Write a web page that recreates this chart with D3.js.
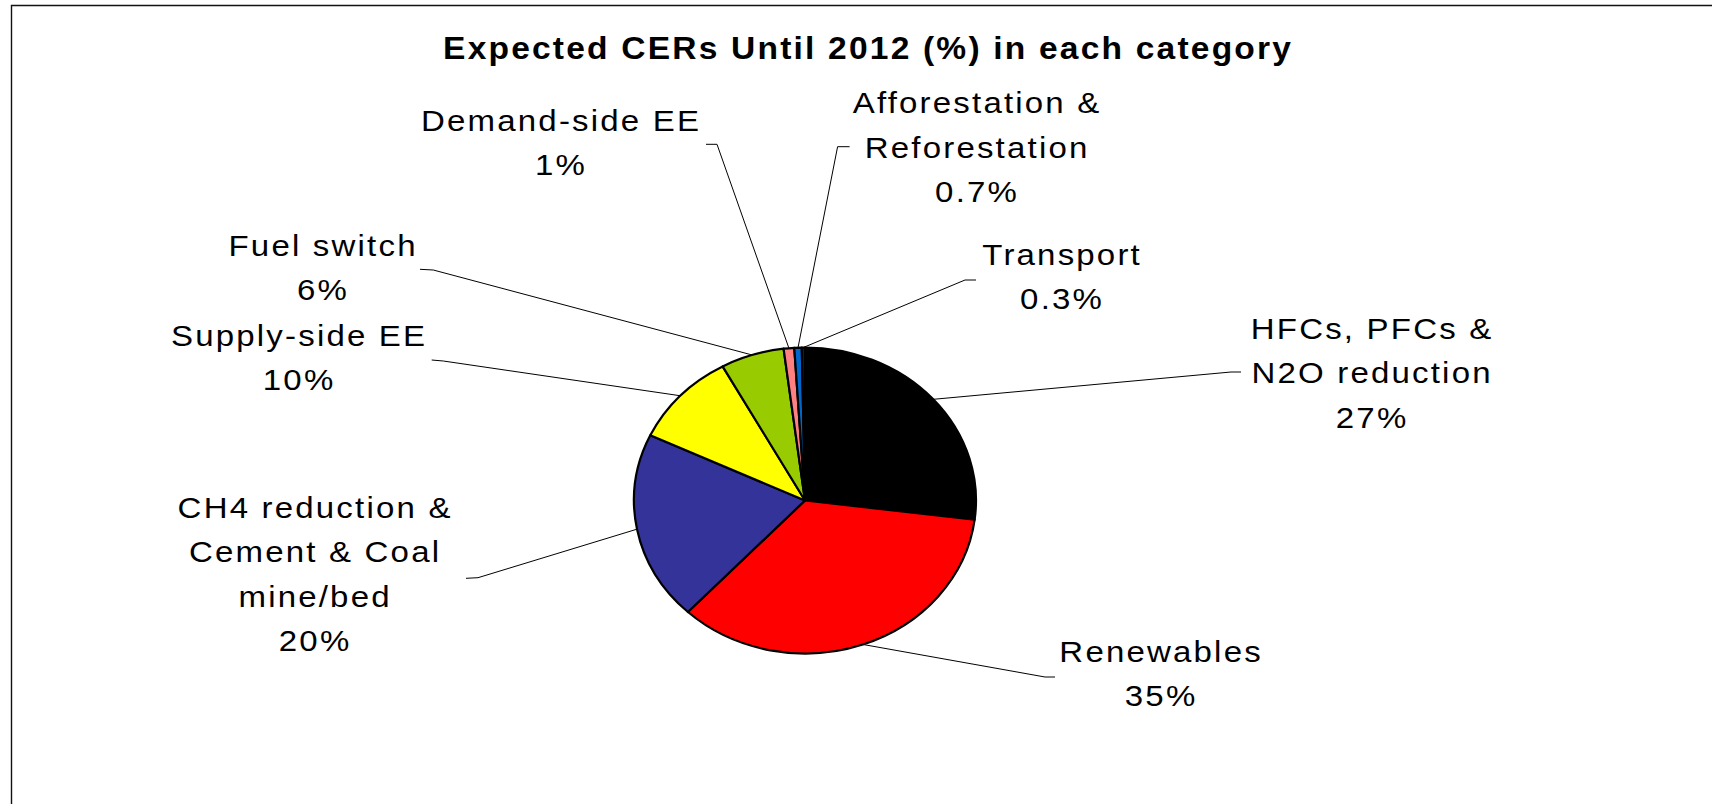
<!DOCTYPE html>
<html>
<head>
<meta charset="utf-8">
<script src="https://cdn.jsdelivr.net/npm/d3@7"></script>
<style>
  html, body { margin: 0; padding: 0; background: #fff; }
  svg { display: block; }
  text { font-family: "Liberation Sans", Arial, sans-serif; fill: #000; }
</style>
</head>
<body>
<svg id="chart" width="1712" height="804"></svg>
<script>
// Expected CERs until 2012, share of each project category (%)
const categories = [
  "HFCs, PFCs & N2O reduction",
  "Renewables",
  "CH4 reduction & Cement & Coal mine/bed",
  "Supply-side EE",
  "Fuel switch",
  "Demand-side EE",
  "Afforestation & Reforestation",
  "Transport"
];
const shares = [27, 35, 20, 10, 6, 1, 0.7, 0.3];

// How each category name wraps in its label
const nameLines = [
  ["HFCs, PFCs &", "N2O reduction"],
  ["Renewables"],
  ["CH4 reduction &", "Cement & Coal", "mine/bed"],
  ["Supply-side EE"],
  ["Fuel switch"],
  ["Demand-side EE"],
  ["Afforestation &", "Reforestation"],
  ["Transport"]
];

const sliceColors = ["#000000", "#FF0000", "#333399", "#FFFF00", "#99CC00", "#FF8080", "#0066CC", "#1a1a40"];

const title = "Expected CERs Until 2012 (%) in each category";

// ---- layout ----
const W = 1712, H = 804;
const cx = 805, cy = 500.5, rx = 171, ry = 153;
const lineH = 44.5;
const spacing = 2;       // letter spacing
const stretch = 1.1;     // horizontal glyph stretch

// label anchor (centre x, first baseline) and leader elbow / end points
const labelLayout = [
  { x: 1371, y: 339,   elbow: [1231, 372],   end: [1241, 372] },
  { x: 1160, y: 661.7, elbow: [1045, 677],   end: [1055, 677] },
  { x: 314,  y: 517.7, elbow: [478, 577.7],  end: [466, 578.3] },
  { x: 298,  y: 346,   elbow: [443.3, 361],  end: [431.7, 360] },
  { x: 322,  y: 255.7, elbow: [433.3, 270],  end: [420, 269.3] },
  { x: 560,  y: 130.7, elbow: [717, 144.3],  end: [706, 144.3] },
  { x: 976,  y: 113.3, elbow: [837.6, 146.7], end: [849.6, 146.7] },
  { x: 1061, y: 265,   elbow: [965, 280],    end: [976, 280] }
];

const svg = d3.select("#chart");

// chart frame
svg.append("path")
  .attr("d", `M11.5,${H} L11.5,5.5 L${W},5.5`)
  .attr("fill", "none")
  .attr("stroke", "#111")
  .attr("stroke-width", 1.4);

// title
svg.append("g")
  .attr("transform", `translate(${867},0) scale(${stretch},1)`)
  .append("text")
  .attr("x", spacing / 2)
  .attr("y", 59)
  .attr("text-anchor", "middle")
  .attr("font-size", 30.5)
  .attr("font-weight", "bold")
  .attr("letter-spacing", spacing)
  .text(title);

const data = categories.map((c, i) => ({ name: c, value: shares[i], idx: i }));

const pie = d3.pie().value(d => d.value).sort(null);
const arcs = pie(data);

const color = d3.scaleOrdinal().domain(categories).range(sliceColors);

const arc = d3.arc().innerRadius(0).outerRadius(ry);

// pie drawn as a circle, stretched horizontally into an ellipse
const pieG = svg.append("g")
  .attr("transform", `translate(${cx},${cy}) scale(${rx / ry},1)`);

pieG.selectAll("path")
  .data(arcs)
  .join("path")
  .attr("d", arc)
  .attr("fill", d => color(d.data.name))
  .attr("stroke", "#000")
  .attr("stroke-width", 2.2)
  .attr("stroke-linejoin", "round")
  .attr("vector-effect", "non-scaling-stroke");

// leader lines from the middle of each slice's rim to its label
function rimPoint(d) {
  const a = (d.startAngle + d.endAngle) / 2;
  return [cx + rx * Math.sin(a), cy - ry * Math.cos(a)];
}

const line = d3.line();
svg.append("g")
  .selectAll("path")
  .data(arcs)
  .join("path")
  .attr("d", d => {
    const L = labelLayout[d.data.idx];
    return line([rimPoint(d), L.elbow, L.end]);
  })
  .attr("fill", "none")
  .attr("stroke", "#000")
  .attr("stroke-width", 1);

// labels: category name lines + value
const fmt = v => `${v}%`;
const labels = svg.append("g")
  .selectAll("g")
  .data(arcs)
  .join("g")
  .attr("transform", d => `translate(${labelLayout[d.data.idx].x},0) scale(${stretch},1)`)
  .append("text")
  .attr("text-anchor", "middle")
  .attr("font-size", 30)
  .attr("letter-spacing", spacing);

labels.each(function(d) {
  const L = labelLayout[d.data.idx];
  const lines = nameLines[d.data.idx].concat([fmt(d.data.value)]);
  d3.select(this).selectAll("tspan")
    .data(lines)
    .join("tspan")
    .attr("x", spacing / 2)
    .attr("y", (t, j) => L.y + j * lineH)
    .text(t => t);
});
</script>
</body>
</html>
